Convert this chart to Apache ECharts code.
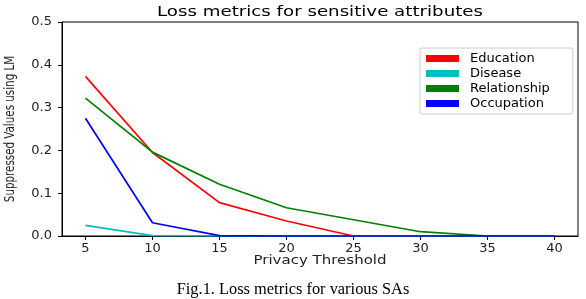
<!DOCTYPE html>
<html><head><meta charset="utf-8">
<script src="https://cdn.jsdelivr.net/npm/echarts@6/dist/echarts.min.js"></script>
<style>html,body{margin:0;padding:0;background:#fff}#c{width:586px;height:299px}</style>
</head><body><div id="c"></div>
<script>
var thresholds = [5, 10, 15, 20, 25, 30, 35, 40];
var education = [0.373, 0.195, 0.078, 0.035, 0.0, 0.0, 0.0, 0.0];
var disease = [0.025, 0.001, 0.0, 0.0, 0.0, 0.0, 0.0, 0.0];
var relationship = [0.322, 0.196, 0.121, 0.066, 0.038, 0.01, 0.0, 0.0];
var occupation = [0.275, 0.031, 0.001, 0.0, 0.0, 0.0, 0.0, 0.0];
var xTicks = [5, 10, 15, 20, 25, 30, 35, 40];

function pairs(v){ return thresholds.map(function(t,i){ return [t, v[i]]; }); }
var font = 'DejaVu Sans';
var chart = echarts.init(document.getElementById('c'), null, {renderer:'canvas'});
function mk(name, data, color){
  return {name:name, type:'line', data:pairs(data), showSymbol:false, symbol:'none',
    lineStyle:{color:color, width:1.7}, itemStyle:{color:color}, animation:false};
}
chart.setOption({
  animation:false,
  grid:{left:62, right:8, top:22, bottom:63, show:true, borderColor:'#000', borderWidth:1, backgroundColor:'transparent'},
  legend:{orient:'vertical', left:420, top:48, icon:'rect', itemWidth:33, itemHeight:7, itemGap:2,
    padding:[4,23,4,6], borderColor:'#ccc', borderWidth:1, borderRadius:2, backgroundColor:'#fff',
    textStyle:{fontFamily:font, fontSize:13, color:'#000', lineHeight:13, padding:[0,0,0,6]},
    data:['Education','Disease','Relationship','Occupation']},
  xAxis:{type:'value', min:3.25, max:41.75,
    axisLine:{lineStyle:{color:'#000', width:1}},
    axisTick:{show:true, inside:false, length:4, lineStyle:{color:'#000'}, customValues:xTicks},
    axisLabel:{fontFamily:font, fontSize:13, color:'#222', margin:6, customValues:xTicks},
    splitLine:{show:false}},
  yAxis:{type:'value', min:0, max:0.5, interval:0.1,
    axisLine:{show:true, lineStyle:{color:'#000', width:1}},
    axisTick:{show:true, length:4, lineStyle:{color:'#000'}},
    axisLabel:{fontFamily:font, fontSize:13, color:'#222', margin:10, formatter:function(v){return v.toFixed(1);}},
    splitLine:{show:false}},
  series:[mk('Education',education,'#ff0000'), mk('Disease',disease,'#00bfbf'),
    mk('Relationship',relationship,'#008000'), mk('Occupation',occupation,'#0000ff')],
  graphic:[
    {type:'text', x:320, y:12, scaleX:1.3, style:{text:'Loss metrics for sensitive attributes',
      fontFamily:font, fontSize:14, fill:'#000', align:'center', verticalAlign:'middle'}},
    {type:'text', x:320, y:261, scaleX:1.25, style:{text:'Privacy Threshold',
      fontFamily:font, fontSize:12, fill:'#222', align:'center', verticalAlign:'middle'}},
    {type:'text', x:10, y:129, rotation:Math.PI/2, scaleX:0.82, style:{text:'Suppressed Values using LM',
      fontFamily:'DejaVu Sans Condensed', fontSize:14, fill:'#222', align:'center', verticalAlign:'middle'}},
    {type:'text', x:293, y:290, style:{text:'Fig.1. Loss metrics for various SAs',
      fontFamily:'Liberation Serif', fontSize:16.4, fill:'#000', align:'center', verticalAlign:'middle'}}
  ]
});
</script></body></html>
